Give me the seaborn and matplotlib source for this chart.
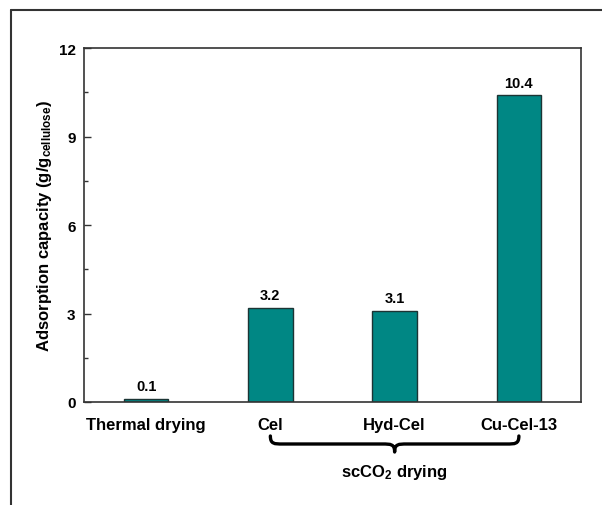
import matplotlib
matplotlib.use("Agg")
import matplotlib.pyplot as plt
from matplotlib.path import Path
from matplotlib.patches import PathPatch
from matplotlib.lines import Line2D
from matplotlib.ticker import MultipleLocator
import matplotlib.transforms as mtransforms
import pandas as pd
import seaborn as sns

# Adsorption capacity for each drying route / sample
categories = ["Thermal drying", "Cel", "Hyd-Cel", "Cu-Cel-13"]
capacity = [0.1, 3.2, 3.1, 10.4]
value_labels = ["0.1", "3.2", "3.1", "10.4"]
y_ticks = [0, 3, 6, 9, 12]
group_label = r"scCO$_\mathregular{2}$ drying"

sns.set_style("white")
plt.rcParams["font.family"] = ["Liberation Sans", "DejaVu Sans"]
plt.rcParams["mathtext.fontset"] = "custom"
plt.rcParams["mathtext.rm"] = "Liberation Sans:bold"
plt.rcParams["mathtext.default"] = "rm"
plt.rcParams["text.color"] = "black"
plt.rcParams["axes.labelcolor"] = "black"
plt.rcParams["xtick.color"] = "black"
plt.rcParams["ytick.color"] = "black"

df = pd.DataFrame({"sample": categories, "capacity": capacity})

fig = plt.figure(figsize=(6.02, 5.06), dpi=100)
ax = fig.add_axes([84 / 602, 1 - 403 / 506, (581 - 84) / 602, (403 - 49) / 506])

sns.barplot(data=df, x="sample", y="capacity", order=categories, color="#008784",
            saturation=1, width=0.36, edgecolor="#1c3434", linewidth=1.0, ax=ax)

ax.set_xlim(-0.5, 3.5)
ax.set_ylim(0, 12)
ax.set_yticks(y_ticks)
ax.set_yticklabels([str(t) for t in y_ticks], fontsize=11, fontweight="bold")
ax.yaxis.set_minor_locator(MultipleLocator(1.5))
ax.tick_params(axis="y", which="major", direction="in", length=5, width=1,
               left=True, right=False, pad=6, color="#333333", labelcolor="black")
ax.tick_params(axis="y", which="minor", direction="in", length=3, width=1,
               left=True, right=False, color="#333333")
ax.tick_params(axis="x", which="both", bottom=False, top=False, pad=7,
               labelcolor="black")
ax.set_xticks(range(len(categories)))
ax.set_xticklabels(categories, fontsize=12, fontweight="bold")
ax.set_xlabel("")
ax.set_ylabel(r"Adsorption capacity (g/g$_{\mathregular{cellulose}}$)",
              fontsize=12, fontweight="bold", labelpad=3, color="black")
for side in ax.spines.values():
    side.set_visible(True)
    side.set_color("#333333")
    side.set_linewidth(1.2)

ax.bar_label(ax.containers[0], labels=value_labels, padding=4,
             fontsize=10.5, fontweight="bold", color="black")

# Curly brace grouping the supercritical-CO2 dried samples
trans = mtransforms.blended_transform_factory(ax.transData, fig.transFigure)
def fy(px):
    return 1 - px / 506

x0, xm, x1 = 1.0, 2.0, 3.0
c = 0.1
y_top, y_mid, y_tip = fy(437), fy(445), fy(453)
verts = [
    (x0, y_top), (x0, y_mid), (x0 + c * 0.3, y_mid), (x0 + c, y_mid),
    (xm - c, y_mid),
    (xm - c * 0.3, y_mid), (xm, y_mid), (xm, y_tip),
    (xm, y_mid), (xm + c * 0.3, y_mid), (xm + c, y_mid),
    (x1 - c, y_mid),
    (x1 - c * 0.3, y_mid), (x1, y_mid), (x1, y_top),
]
codes = [Path.MOVETO, Path.CURVE4, Path.CURVE4, Path.CURVE4,
         Path.LINETO,
         Path.CURVE4, Path.CURVE4, Path.CURVE4,
         Path.CURVE4, Path.CURVE4, Path.CURVE4,
         Path.LINETO,
         Path.CURVE4, Path.CURVE4, Path.CURVE4]
ax.add_patch(PathPatch(Path(verts, codes), transform=trans, facecolor="none",
                       edgecolor="black", linewidth=2.4, clip_on=False,
                       capstyle="round", joinstyle="round"))
ax.text(xm, fy(472), group_label, transform=trans, ha="center", va="center",
        fontsize=12, fontweight="bold", color="black")

# Outer frame lines along the top and left edge
fig.add_artist(Line2D([10.5 / 602, 10.5 / 602], [0, 1 - 11 / 506],
                      transform=fig.transFigure, color="#333333", linewidth=1.5))
fig.add_artist(Line2D([10.5 / 602, 1], [1 - 11 / 506, 1 - 11 / 506],
                      transform=fig.transFigure, color="#333333", linewidth=1.5))

fig.savefig("out.png", dpi=100)
